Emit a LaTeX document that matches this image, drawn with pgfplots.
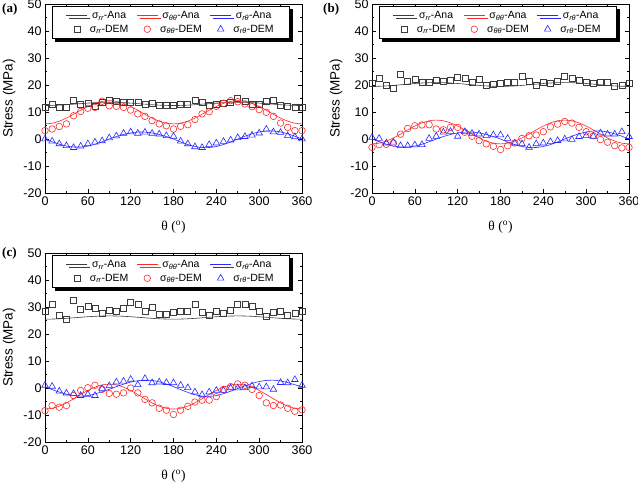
\documentclass[border=0pt]{standalone}
\usepackage{pgfplots}
\pgfplotsset{compat=1.18}
\usepackage{pgfplotstable}
\usepackage{fontspec}
\setmainfont{Liberation Sans}
\newfontfamily\tnr{Liberation Serif}
\usetikzlibrary{shadows}

\definecolor{anagray}{RGB}{60,60,60}
\definecolor{demred}{RGB}{255,40,40}
\definecolor{demblue}{RGB}{40,40,255}

% th: angle, *A: analytical, *D: DEM
\pgfplotstableread{
th  rrA   ttA   rtA   rrD  ttD  rtD
0   12.40 5.60  0.00  11.8 3.1  0.0
10  12.44 5.86  -1.03 12.8 3.7  -0.8
20  12.54 6.61  -1.93 11.8 4.6  -1.8
30  12.70 7.75  -2.60 11.9 5.6  -2.5
40  12.90 9.15  -2.95 14.5 8.6  -3.2
50  13.10 10.65 -2.95 12.8 10.2 -2.7
60  13.30 12.05 -2.60 13.2 11.4 -1.8
70  13.46 13.19 -1.93 12.0 11.7 -1.2
80  13.56 13.94 -1.03 13.6 14.0 -0.7
90  13.60 14.20 0.00  14.2 12.3 0.4
100 13.56 13.94 0.89  13.9 12.1 1.1
110 13.46 13.19 1.67  13.6 11.7 2.1
120 13.30 12.05 2.25  13.6 10.7 2.6
130 13.10 10.65 2.56  13.6 9.3  2.1
140 12.90 9.15  2.56  12.8 8.4  2.5
150 12.70 7.75  2.25  13.3 6.8  2.1
160 12.54 6.61  1.67  12.6 5.6  1.8
170 12.44 5.86  0.89  12.6 4.9  1.2
180 12.40 5.60  0.00  12.4 3.7  1.0
190 12.44 5.86  -1.10 13.0 4.7  -0.8
200 12.54 6.61  -2.06 13.0 5.3  -1.8
210 12.70 7.75  -2.77 14.5 7.2  -2.9
220 12.90 9.15  -3.15 13.6 9.3  -3.2
230 13.10 10.65 -3.15 12.4 10.1 -2.1
240 13.30 12.05 -2.77 12.8 12.1 -1.5
250 13.46 13.19 -2.06 13.3 13.2 -0.9
260 13.56 13.94 -1.10 13.7 14.2 -0.4
270 13.60 14.20 0.00  15.2 13.8 0.5
280 13.56 13.94 1.03  13.8 13.0 0.9
290 13.46 13.19 1.93  12.9 12.0 1.4
300 13.30 12.05 2.60  12.9 10.9 2.2
310 13.10 10.65 2.95  13.8 9.9  3.6
320 12.90 9.15  2.95  14.2 8.4  2.6
330 12.70 7.75  2.60  12.6 5.9  2.4
340 12.54 6.61  1.93  12.0 4.3  1.2
350 12.44 5.86  1.03  11.7 3.1  0.8
360 12.40 5.60  0.00  11.7 3.1  0.0
}\dataA

\pgfplotstableread{
th  rrA   ttA   rtA   rrD  ttD  rtD
0   19.50 -1.80 0.00  20.6 -3.1 0.6
10  19.54 -1.54 -1.03 22.3 -2.1 0.2
20  19.66 -0.77 -1.93 20.0 -2.0 -1.5
30  19.85 0.40  -2.60 18.8 -1.5 -1.2
40  20.08 1.83  -2.95 23.9 1.8  -2.5
50  20.32 3.37  -2.95 21.5 3.9  -2.5
60  20.55 4.80  -2.60 22.1 4.9  -2.2
70  20.74 5.97  -1.93 21.1 5.2  -2.1
80  20.86 6.74  -1.03 20.9 5.3  0.2
90  20.90 7.00  0.00  21.7 3.7  1.0
100 20.86 6.74  0.89  21.5 3.4  2.5
110 20.74 5.97  1.67  21.8 4.3  2.8
120 20.55 4.80  2.25  22.9 4.3  1.0
130 20.32 3.37  2.56  22.5 2.5  2.7
140 20.08 1.83  2.56  20.9 1.0  2.1
150 19.85 0.40  2.25  22.1 -0.6 1.8
160 19.66 -0.77 1.67  19.9 -1.8 1.2
170 19.54 -1.54 0.89  20.2 -2.7 1.5
180 19.50 -1.80 0.00  20.5 -3.9 1.5
190 19.54 -1.54 -1.10 21.1 -2.5 0.2
200 19.66 -0.77 -2.06 21.1 -1.5 -1.5
210 19.85 0.40  -2.77 23.1 0.2  -1.8
220 20.08 1.83  -3.15 21.2 1.2  -3.1
230 20.32 3.37  -3.15 19.9 1.5  -1.8
240 20.55 4.80  -2.77 21.1 2.7  -1.5
250 20.74 5.97  -2.06 20.5 4.5  -1.0
260 20.86 6.74  -1.10 21.5 5.5  -0.6
270 20.90 7.00  0.00  23.3 6.5  0.0
280 20.86 6.74  1.03  22.5 5.9  -0.2
290 20.74 5.97  1.93  21.8 4.3  0.9
300 20.55 4.80  2.60  20.9 2.7  1.2
310 20.32 3.37  2.95  20.5 1.2  1.0
320 20.08 1.83  2.95  21.1 -0.2 2.2
330 19.85 0.40  2.60  20.9 -1.2 1.8
340 19.66 -0.77 1.93  19.6 -2.5 1.8
350 19.54 -1.54 1.03  20.0 -3.3 2.7
360 19.50 -1.80 0.00  20.6 -3.1 0.9
}\dataB

\pgfplotstableread{
th  rrA   ttA   rtA   rrD  ttD  rtD
0   25.50 -7.80 0.5   28.5 -8.4 1.0
10  25.54 -7.52 -0.6  31.0 -6.5 0.6
20  25.64 -6.72 -1.5  27.0 -7.1 -1.2
30  25.80 -5.50 -2.3  25.6 -6.5 -1.9
40  26.00 -4.00 -2.8  32.3 -2.8 -2.1
50  26.20 -2.40 -3.0  29.1 -0.9 -2.8
60  26.40 -0.90 -2.8  30.4 0.1  -2.4
70  26.56 0.32  -2.2  29.4 1.0  -2.8
80  26.66 1.12  -1.4  27.5 -0.5 -0.2
90  26.70 1.40  -0.5  28.8 -2.0 0.8
100 26.66 1.12  0.5   28.5 -2.3 2.2
110 26.56 0.32  1.4   29.4 -1.8 2.5
120 26.40 -0.90 2.2   31.6 0.0  3.2
130 26.20 -2.40 2.7   31.0 -1.8 1.2
140 26.00 -4.00 2.9   28.3 -4.2 3.5
150 25.80 -5.50 2.8   29.8 -5.5 1.9
160 25.64 -6.72 2.3   27.3 -7.5 2.2
170 25.54 -7.52 1.5   27.3 -8.2 2.0
180 25.50 -7.80 0.5   27.9 -9.8 1.9
190 25.54 -7.52 -0.6  28.5 -8.2 1.0
200 25.64 -6.72 -1.6  28.5 -6.8 0.1
210 25.80 -5.50 -2.5  31.0 -5.2 -1.5
220 26.00 -4.00 -3.0  27.9 -4.5 -2.5
230 26.20 -2.40 -3.1  27.0 -4.5 -1.5
240 26.40 -0.90 -2.8  28.5 -3.2 -0.9
250 26.56 0.32  -2.1  27.6 -0.5 -0.9
260 26.66 1.12  -1.2  28.9 0.5  0.0
270 26.70 1.40  -0.2  31.0 1.5  0.0
280 26.66 1.12  0.8   31.0 1.0  0.1
290 26.56 0.32  1.7   30.4 -0.5 0.8
300 26.40 -0.90 2.4   28.5 -2.8 0.4
310 26.20 -2.40 2.8   26.6 -5.5 0.4
320 26.00 -4.00 2.9   27.9 -6.5 -0.5
330 25.80 -5.50 2.6   28.3 -6.3 2.0
340 25.64 -6.72 2.0   26.9 -7.5 1.9
350 25.54 -7.52 1.2   27.5 -8.6 3.1
360 25.50 -7.80 0.5   28.5 -8.1 1.0
}\dataC

\pgfplotsset{
  panel/.style={
    scale only axis, width=257pt, height=189pt,
    anchor=south west,
    xmin=0, xmax=360, ymin=-20, ymax=50,
    xtick={0,60,...,360}, ytick={-20,-10,...,50},
    minor x tick num=1, minor y tick num=1,
    tick align=inside,
    major tick length=4pt, minor tick length=2pt,
    tick style={black, line width=0.5pt},
    axis line style={line width=0.6pt},
    ticklabel style={font=\fontsize{12.5}{14}\selectfont},
    /pgf/number format/assume math mode=true,
    xlabel={{\tnr θ (\textsuperscript{o})}},
    ylabel={Stress (MPa)},
    label style={font=\fontsize{13.5}{15}\selectfont},
    xlabel style={yshift=-9pt},
    ylabel style={yshift=1pt},
    legend columns=3,
    legend image code/.code={\draw[mark repeat=2,mark phase=2,##1] plot coordinates {(0pt,0pt) (10.5pt,0pt) (21pt,0pt)};},
    legend style={at={(0.027,0.99)}, anchor=north west, draw=black, fill=white,
      line width=0.5pt, font=\fontsize{10.5}{12}\selectfont,
      inner xsep=14pt, inner ysep=3pt, row sep=1pt,
      /tikz/every even column/.append style={column sep=6pt},
      drop shadow={shadow xshift=3pt, shadow yshift=-3pt, fill=black, opacity=1}},
  },
  ana/.style={smooth, line width=0.6pt},
}

\newcommand{\panel}[2]{%
\begin{axis}[panel, at={#2}]
\addplot[ana, anagray] table[x=th, y=rrA] {#1};
\addplot[ana, demred] table[x=th, y=ttA] {#1};
\addplot[ana, demblue] table[x=th, y=rtA] {#1};
\addplot[only marks, mark=square, mark size=3pt, anagray, line width=0.6pt] table[x=th, y=rrD] {#1};
\addplot[only marks, mark=o, mark size=3.3pt, demred, line width=0.6pt] table[x=th, y=ttD] {#1};
\addplot[only marks, mark=triangle, mark size=3.8pt, demblue, line width=0.6pt] table[x=th, y=rtD] {#1};
\legend{σ\textsubscript{\itshape rr}-Ana, σ\textsubscript{\itshape θθ}-Ana, σ\textsubscript{\itshape rθ}-Ana,
        σ\textsubscript{\itshape rr}-DEM, σ\textsubscript{\itshape θθ}-DEM, σ\textsubscript{\itshape rθ}-DEM}
\end{axis}}

\begin{document}
\begin{tikzpicture}
\useasboundingbox (0pt,0pt) rectangle (638pt,483pt);
\panel{\dataA}{(45pt,290pt)}
\panel{\dataB}{(372pt,290pt)}
\panel{\dataC}{(45pt,41pt)}
\node[anchor=north west, inner sep=0pt, font=\tnr\bfseries\fontsize{13}{15}\selectfont] at (2pt,480pt) {(a)};
\node[anchor=north west, inner sep=0pt, font=\tnr\bfseries\fontsize{13}{15}\selectfont] at (323pt,480pt) {(b)};
\node[anchor=north west, inner sep=0pt, font=\tnr\bfseries\fontsize{13}{15}\selectfont] at (2pt,236pt) {(c)};
\end{tikzpicture}
\end{document}
